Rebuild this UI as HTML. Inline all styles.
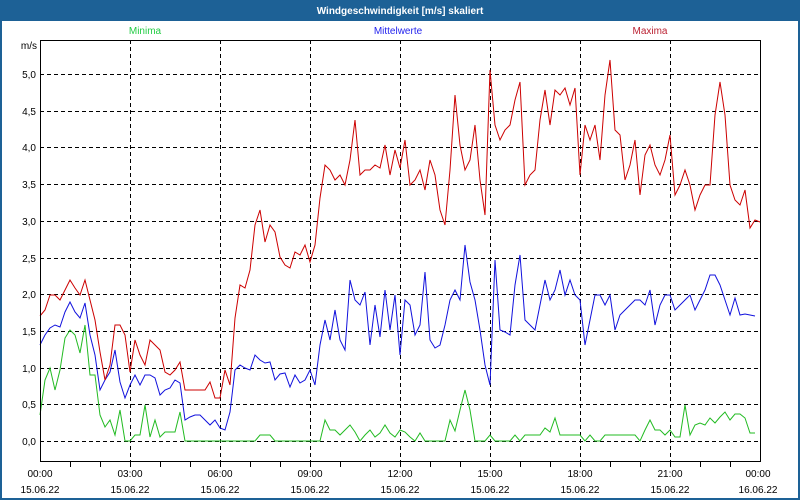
<!DOCTYPE html>
<html><head><meta charset="utf-8"><style>
body{margin:0;width:800px;height:500px;overflow:hidden;background:#fff}
svg{display:block}
text{font-family:"Liberation Sans","DejaVu Sans",sans-serif;font-size:10px}
</style></head><body>
<svg width="800" height="500" viewBox="0 0 800 500">
<rect x="0" y="0" width="800" height="500" fill="#1d6196"/>
<rect x="2" y="21" width="796" height="477" fill="#fff"/>
<text x="400" y="14" fill="#fff" font-weight="bold" font-size="11" text-anchor="middle">Windgeschwindigkeit [m/s] skaliert</text>
<text x="145" y="34" fill="#22cc44" text-anchor="middle">Minima</text>
<text x="398" y="34" fill="#2222ee" text-anchor="middle">Mittelwerte</text>
<text x="650" y="34" fill="#bb2233" text-anchor="middle">Maxima</text>
<text x="37" y="49" fill="#000" text-anchor="end">m/s</text>
<g stroke="#000" stroke-width="1" stroke-dasharray="4,3" fill="none">
<path d="M40 74.5H760M40 111.5H760M40 147.5H760M40 184.5H760M40 221.5H760M40 258.5H760M40 294.5H760M40 331.5H760M40 368.5H760M40 404.5H760M40 441.5H760"/>
<path d="M130.5 40V461M220.5 40V461M310.5 40V461M400.5 40V461M490.5 40V461M580.5 40V461M670.5 40V461"/>
</g>
<g fill="#000" text-anchor="end">
<text x="36" y="78">5,0</text><text x="36" y="115">4,5</text><text x="36" y="151">4,0</text><text x="36" y="188">3,5</text><text x="36" y="225">3,0</text><text x="36" y="262">2,5</text><text x="36" y="298">2,0</text><text x="36" y="335">1,5</text><text x="36" y="372">1,0</text><text x="36" y="408">0,5</text><text x="36" y="445">0,0</text>
</g>
<polyline fill="none" stroke="#22bb22" stroke-width="1" points="40,415 45,380 50,368 55,390 60,370 65,338 70,330 75,335 80,353 85,325 90,375 95,375 100,415 105,427 110,420 115,435 120,410 125,441 130,441 135,435 140,435 145,405 150,437 155,420 160,437 165,432 170,432 175,432 180,412 185,441 255,441 260,435 270,435 275,441 320,441 325,420 330,430 335,430 340,435 345,430 350,425 355,432 360,441 365,435 370,430 375,437 380,433 385,425 390,433 395,437 400,430 405,432 410,437 415,441 420,433 425,441 445,441 450,420 455,431 460,410 465,390 470,410 475,441 485,441 490,435 495,441 510,441 515,435 520,441 525,435 540,435 545,428 550,432 555,418 560,435 580,435 585,441 590,435 595,441 600,441 605,435 635,435 640,441 645,430 650,420 655,430 660,430 665,435 670,430 675,437 680,437 685,405 690,435 695,425 700,423 705,425 710,418 715,423 720,417 725,412 730,420 735,414 740,414 745,418 750,433 755,433"/>
<polyline fill="none" stroke="#1111dd" stroke-width="1" points="40,345 45,335 50,328 55,325 60,327 65,312 70,302 75,312 80,318 85,303 90,335 95,355 100,390 105,380 110,372 115,350 120,382 125,398 130,385 135,375 140,385 145,375 150,375 155,378 160,395 165,390 170,388 175,380 180,383 185,420 190,417 195,415 200,415 205,420 210,425 215,420 220,428 225,430 230,412 235,370 240,365 245,368 250,370 255,355 260,360 265,363 270,362 275,380 280,374 285,373 290,387 295,375 300,383 305,380 310,370 315,385 320,345 325,320 330,340 335,310 340,340 345,350 350,280 355,300 360,305 365,292 370,345 375,305 380,337 385,290 390,330 395,295 400,355 405,300 410,305 415,335 420,325 425,272 430,340 435,348 440,345 445,325 450,300 455,290 460,300 465,245 470,282 475,300 480,330 485,365 490,385 495,260 500,330 505,332 510,335 515,285 520,255 525,320 530,325 535,330 540,305 545,280 550,300 555,290 560,270 565,295 570,280 575,295 580,300 585,345 590,320 595,295 600,295 605,305 610,295 615,330 620,315 625,310 630,305 635,300 640,300 645,305 650,290 655,325 660,305 665,295 670,295 675,310 680,305 685,300 690,295 695,310 700,300 705,290 710,275 715,275 720,285 725,300 730,315 735,298 740,315 745,314 750,315 755,316"/>
<polyline fill="none" stroke="#cc0000" stroke-width="1" points="40,316 45,310 50,295 55,295 60,300 65,290 70,280 75,288 80,295 85,280 90,300 95,320 100,352 105,380 110,365 115,325 120,325 125,335 130,372 135,340 140,355 145,365 150,340 155,345 160,350 165,372 170,375 175,370 180,362 185,390 190,390 195,390 200,390 205,390 210,382 215,398 220,398 225,370 230,385 235,318 240,285 245,288 250,270 255,225 260,210 265,242 270,225 275,232 280,257 285,265 290,268 295,252 300,255 305,245 310,262 315,245 320,198 325,165 330,170 335,180 340,175 345,185 350,160 355,120 360,175 365,170 370,170 375,165 380,168 385,145 390,175 395,150 400,168 405,140 410,185 415,180 420,170 425,190 430,160 435,175 440,210 445,225 450,170 455,95 460,145 465,170 470,160 475,125 480,180 485,215 490,70 495,125 500,140 505,130 510,125 515,100 520,82 525,185 530,175 535,170 540,120 545,90 550,125 555,90 560,95 565,88 570,105 575,88 580,175 585,125 590,140 595,125 600,160 605,95 610,60 615,130 620,135 625,180 630,165 635,140 640,195 645,155 650,145 655,165 660,175 665,160 670,135 675,195 680,185 685,170 690,185 695,210 700,195 705,185 710,185 715,115 720,82 725,115 730,185 735,200 740,205 745,190 750,228 755,220 760,222"/>
<rect x="40.5" y="40.5" width="720" height="421" fill="none" stroke="#000" stroke-width="1"/>
<path stroke="#000" d="M70.5 461V467M100.5 461V467M130.5 461V467M160.5 461V467M190.5 461V467M220.5 461V467M250.5 461V467M280.5 461V467M310.5 461V467M340.5 461V467M370.5 461V467M400.5 461V467M430.5 461V467M460.5 461V467M490.5 461V467M520.5 461V467M550.5 461V467M580.5 461V467M610.5 461V467M640.5 461V467M670.5 461V467M700.5 461V467M730.5 461V467"/>
<g fill="#000" text-anchor="middle">
<text x="40" y="477">00:00</text><text x="130" y="477">03:00</text><text x="220" y="477">06:00</text><text x="310" y="477">09:00</text><text x="400" y="477">12:00</text><text x="490" y="477">15:00</text><text x="580" y="477">18:00</text><text x="670" y="477">21:00</text><text x="758" y="477">00:00</text>
<text x="40" y="493">15.06.22</text><text x="130" y="493">15.06.22</text><text x="220" y="493">15.06.22</text><text x="310" y="493">15.06.22</text><text x="400" y="493">15.06.22</text><text x="490" y="493">15.06.22</text><text x="580" y="493">15.06.22</text><text x="670" y="493">15.06.22</text><text x="758" y="493">16.06.22</text>
</g>
</svg>
</body></html>
